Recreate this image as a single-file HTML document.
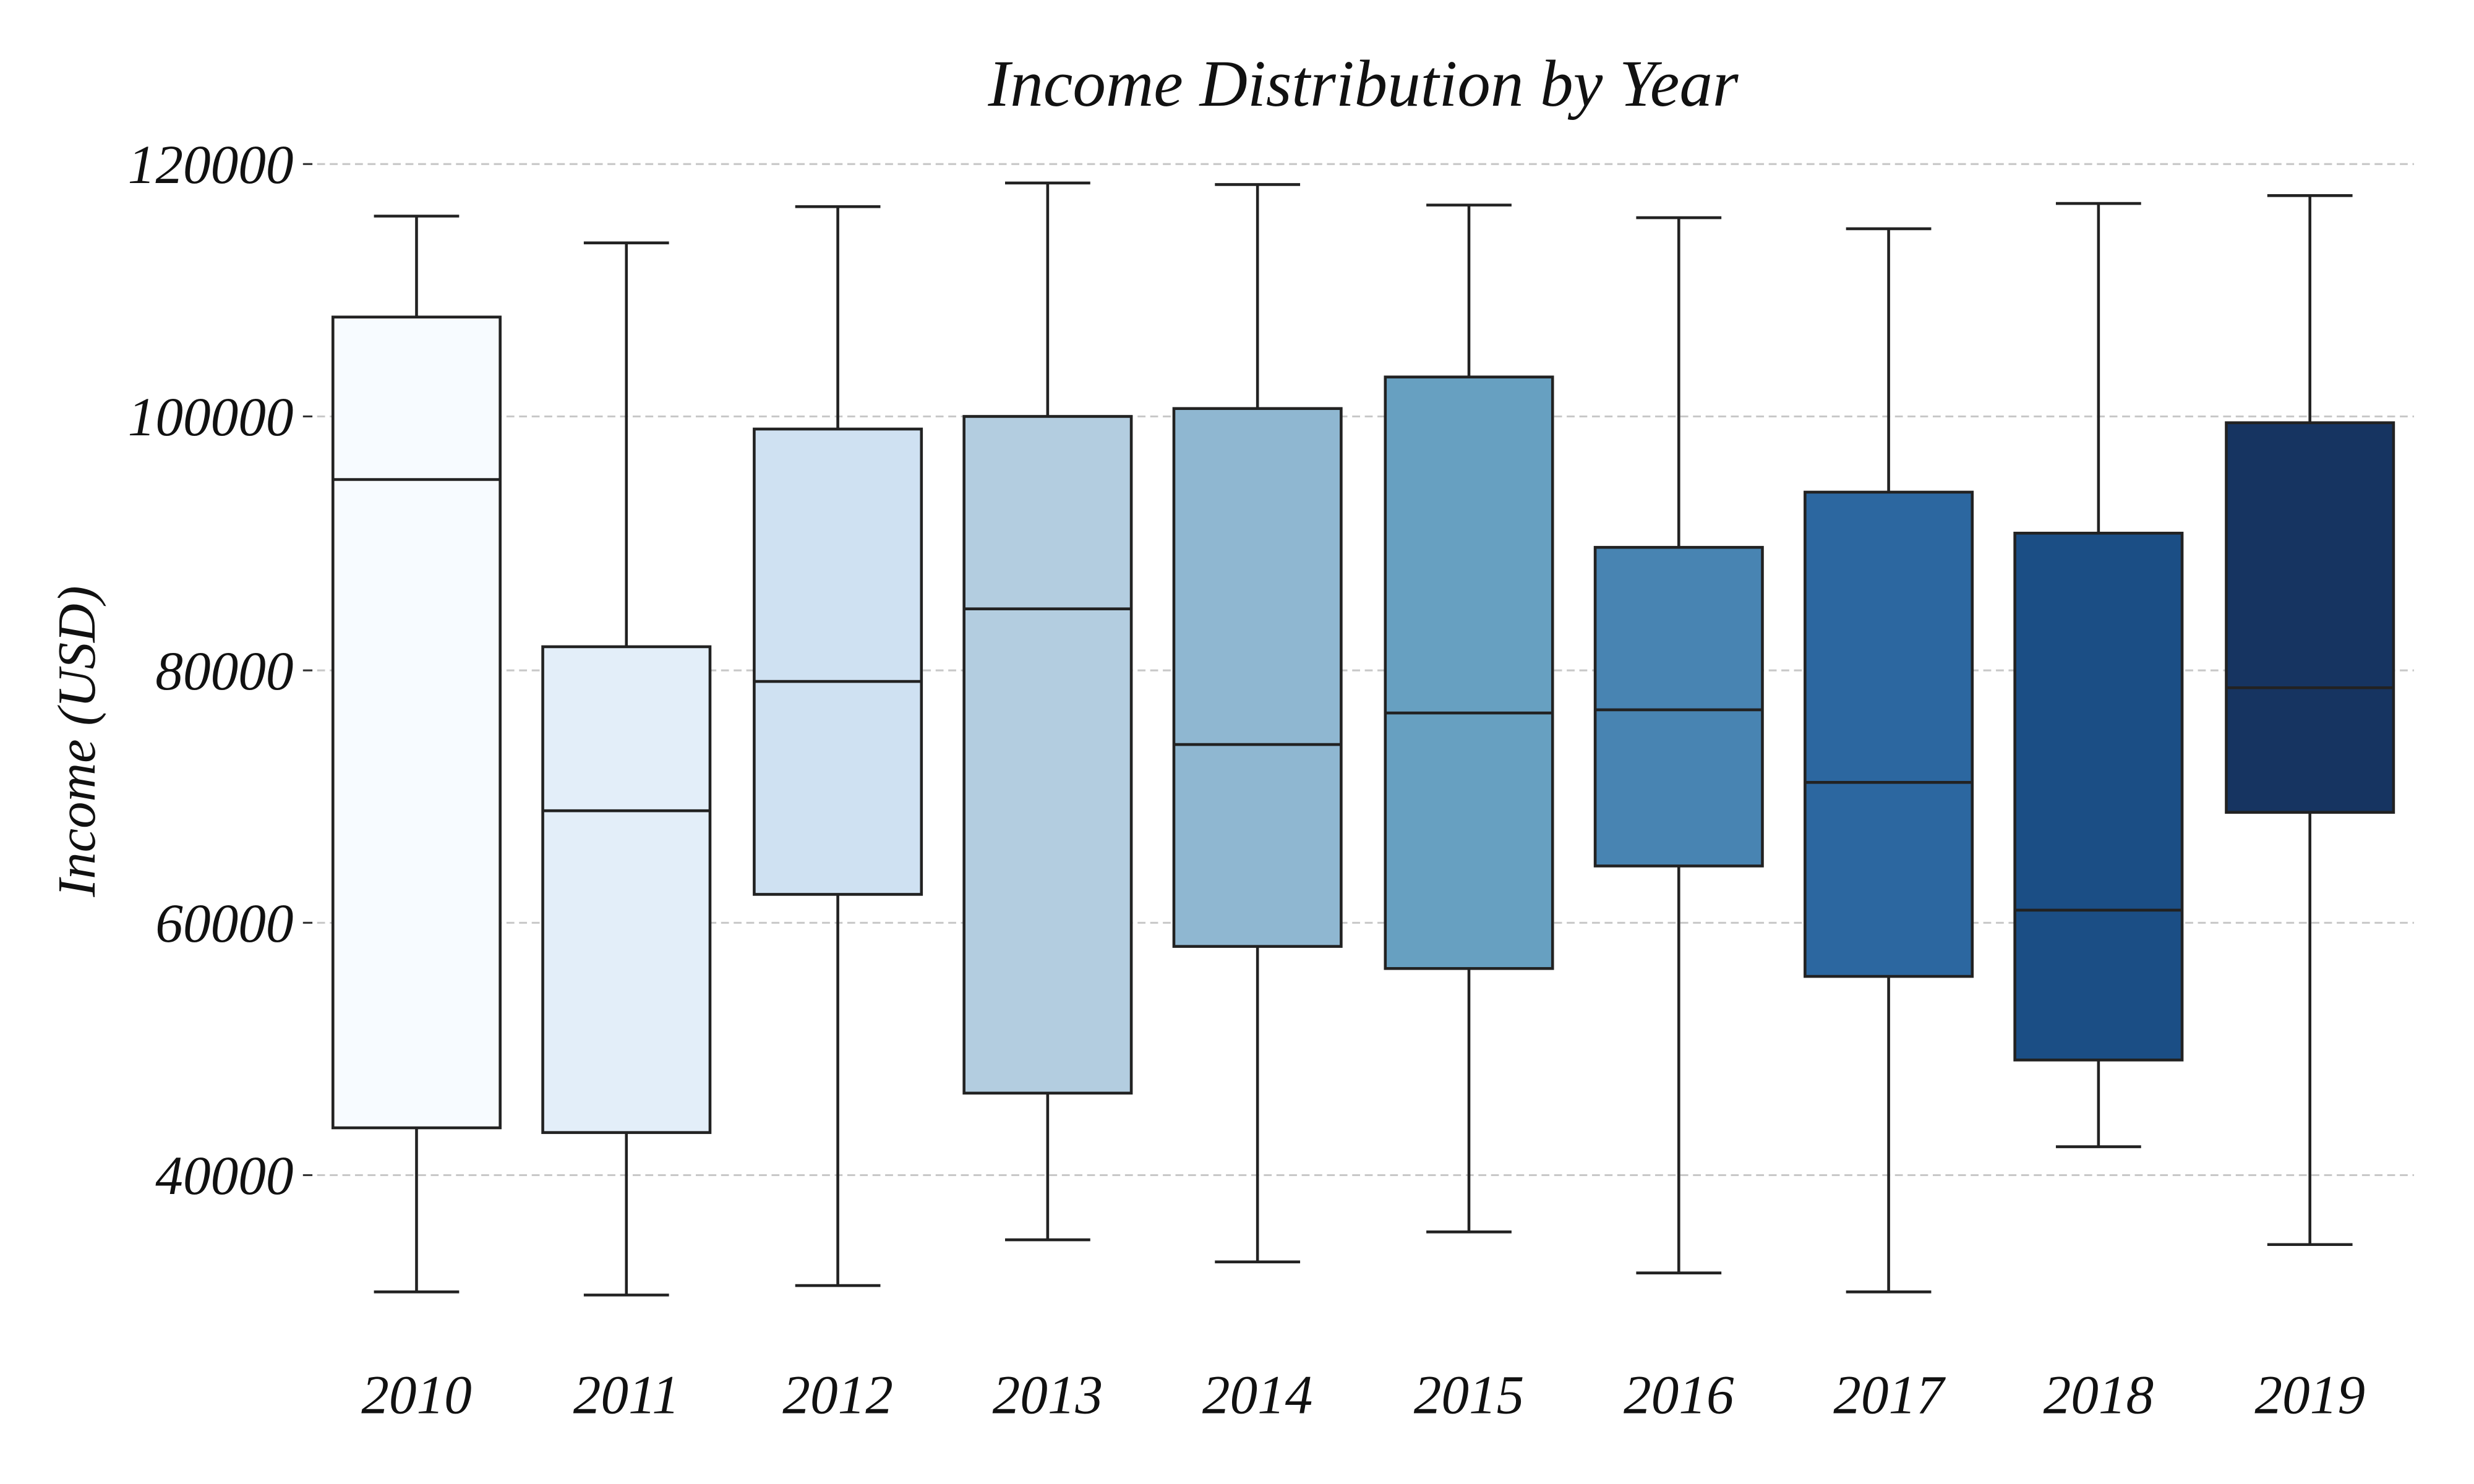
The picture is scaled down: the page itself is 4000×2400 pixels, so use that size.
<!DOCTYPE html>
<html><head><meta charset="utf-8"><style>html,body{margin:0;padding:0;background:#fff}svg{display:block}</style></head>
<body>
<svg width="4000" height="2400" viewBox="0 0 1568 940.8" preserveAspectRatio="none" xmlns="http://www.w3.org/2000/svg" font-family="'Liberation Serif', serif" font-style="italic">
<rect width="1568" height="940.8" fill="#fff"/>
<g stroke="#c8c8c8" stroke-width="1.2" stroke-dasharray="5,3">
<line x1="193" x2="1530" y1="104" y2="104"/>
<line x1="193" x2="1530" y1="264" y2="264"/>
<line x1="193" x2="1530" y1="425" y2="425"/>
<line x1="193" x2="1530" y1="585" y2="585"/>
<line x1="193" x2="1530" y1="745" y2="745"/>
</g>
<g stroke="#333" stroke-width="1.2">
<line x1="192" x2="198" y1="104" y2="104"/><line x1="192" x2="198" y1="264" y2="264"/><line x1="192" x2="198" y1="425" y2="425"/><line x1="192" x2="198" y1="585" y2="585"/><line x1="192" x2="198" y1="745" y2="745"/>
</g>
<g font-size="35" fill="#111" text-anchor="end">
<text x="186" y="116">120000</text><text x="186" y="276">100000</text><text x="186" y="437">80000</text><text x="186" y="597">60000</text><text x="186" y="757">40000</text>
</g>
<text x="864" y="67" font-size="42" text-anchor="middle" fill="#111">Income Distribution by Year</text>
<text transform="translate(60,470) rotate(-90)" font-size="34" text-anchor="middle" fill="#111">Income (USD)</text>
<g stroke="#222" stroke-width="1.8">
<line x1="264" x2="264" y1="137" y2="201"/><line x1="264" x2="264" y1="715" y2="819"/><line x1="237" x2="291" y1="137" y2="137"/><line x1="237" x2="291" y1="819" y2="819"/><rect x="211" y="201" width="106" height="514" fill="#f7fbff"/><line x1="211" x2="317" y1="304" y2="304"/>
<line x1="397" x2="397" y1="154" y2="410"/><line x1="397" x2="397" y1="718" y2="821"/><line x1="370" x2="424" y1="154" y2="154"/><line x1="370" x2="424" y1="821" y2="821"/><rect x="344" y="410" width="106" height="308" fill="#e3eef9"/><line x1="344" x2="450" y1="514" y2="514"/>
<line x1="531" x2="531" y1="131" y2="272"/><line x1="531" x2="531" y1="567" y2="815"/><line x1="504" x2="558" y1="131" y2="131"/><line x1="504" x2="558" y1="815" y2="815"/><rect x="478" y="272" width="106" height="295" fill="#cfe1f2"/><line x1="478" x2="584" y1="432" y2="432"/>
<line x1="664" x2="664" y1="116" y2="264"/><line x1="664" x2="664" y1="693" y2="786"/><line x1="637" x2="691" y1="116" y2="116"/><line x1="637" x2="691" y1="786" y2="786"/><rect x="611" y="264" width="106" height="429" fill="#b3cde0"/><line x1="611" x2="717" y1="386" y2="386"/>
<line x1="797" x2="797" y1="117" y2="259"/><line x1="797" x2="797" y1="600" y2="800"/><line x1="770" x2="824" y1="117" y2="117"/><line x1="770" x2="824" y1="800" y2="800"/><rect x="744" y="259" width="106" height="341" fill="#8fb7d1"/><line x1="744" x2="850" y1="472" y2="472"/>
<line x1="931" x2="931" y1="130" y2="239"/><line x1="931" x2="931" y1="614" y2="781"/><line x1="904" x2="958" y1="130" y2="130"/><line x1="904" x2="958" y1="781" y2="781"/><rect x="878" y="239" width="106" height="375" fill="#67a0c1"/><line x1="878" x2="984" y1="452" y2="452"/>
<line x1="1064" x2="1064" y1="138" y2="347"/><line x1="1064" x2="1064" y1="549" y2="807"/><line x1="1037" x2="1091" y1="138" y2="138"/><line x1="1037" x2="1091" y1="807" y2="807"/><rect x="1011" y="347" width="106" height="202" fill="#4884b2"/><line x1="1011" x2="1117" y1="450" y2="450"/>
<line x1="1197" x2="1197" y1="145" y2="312"/><line x1="1197" x2="1197" y1="619" y2="819"/><line x1="1170" x2="1224" y1="145" y2="145"/><line x1="1170" x2="1224" y1="819" y2="819"/><rect x="1144" y="312" width="106" height="307" fill="#2c67a0"/><line x1="1144" x2="1250" y1="496" y2="496"/>
<line x1="1330" x2="1330" y1="129" y2="338"/><line x1="1330" x2="1330" y1="672" y2="727"/><line x1="1303" x2="1357" y1="129" y2="129"/><line x1="1303" x2="1357" y1="727" y2="727"/><rect x="1277" y="338" width="106" height="334" fill="#1b4e85"/><line x1="1277" x2="1383" y1="577" y2="577"/>
<line x1="1464" x2="1464" y1="124" y2="268"/><line x1="1464" x2="1464" y1="515" y2="789"/><line x1="1437" x2="1491" y1="124" y2="124"/><line x1="1437" x2="1491" y1="789" y2="789"/><rect x="1411" y="268" width="106" height="247" fill="#163461"/><line x1="1411" x2="1517" y1="436" y2="436"/>
</g>
<g font-size="35" fill="#111" text-anchor="middle">
<text x="264" y="896">2010</text><text x="397" y="896">2011</text><text x="531" y="896">2012</text><text x="664" y="896">2013</text><text x="797" y="896">2014</text><text x="931" y="896">2015</text><text x="1064" y="896">2016</text><text x="1197" y="896">2017</text><text x="1330" y="896">2018</text><text x="1464" y="896">2019</text>
</g>
</svg>
</body></html>
